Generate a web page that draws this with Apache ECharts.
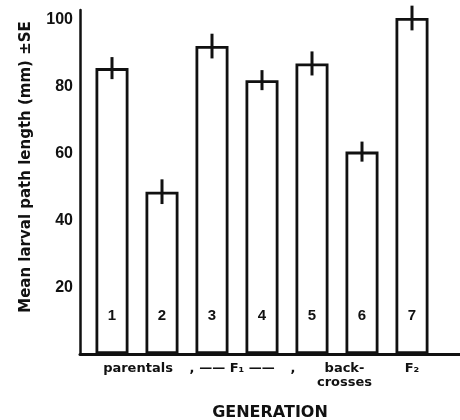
<!DOCTYPE html>
<html>
<head>
<meta charset="utf-8">
<script src="https://cdn.jsdelivr.net/npm/echarts@6/dist/echarts.min.js"></script>
<style>
  html, body { margin: 0; padding: 0; background: #fff; }
  #chart { width: 460px; height: 420px; }
</style>
</head>
<body>
<div id="chart"></div>
<script>
// bar numbers, positions on the x scale, means and standard errors
var barNames = ['1', '2', '3', '4', '5', '6', '7'];
var barPos = [1, 2, 3, 4, 5, 6, 7];
var means = [85.6, 48.6, 92.2, 82, 87, 60.6, 100.6];
var se = [3.3, 3.7, 3.7, 3.0, 3.6, 3.0, 3.7];

// generation labels under the axis
var groupNames = ['parentals', ',', '—— F\u2081 ——', ',', 'back-\ncrosses', 'F\u2082'];
var groupPos = [1.52, 2.6, 3.5, 4.62, 5.65, 7];

var FONT = 'Liberation Sans';
var WIDE = 'DejaVu Sans';
var chart = echarts.init(document.getElementById('chart'));

chart.setOption({
  animation: false,
  backgroundColor: '#fff',
  grid: { left: 80, right: 0, top: 10, bottom: 66, outerBoundsMode: 'none' },
  xAxis: {
    type: 'value',
    min: 0.36,
    max: 7.96,
    name: 'GENERATION',
    nameLocation: 'middle',
    nameGap: 51,
    nameTextStyle: { color: '#111', fontFamily: WIDE, fontSize: 16, fontWeight: 'bold' },
    axisLine: { lineStyle: { color: '#111', width: 3 } },
    axisTick: { show: false },
    axisLabel: { show: false },
    splitLine: { show: false }
  },
  yAxis: {
    type: 'value',
    min: 0,
    max: 103,
    interval: 20,
    name: 'Mean larval path length (mm) ±SE',
    nameLocation: 'middle',
    nameRotate: 90,
    nameGap: 46,
    nameTextStyle: { color: '#111', fontFamily: WIDE, fontSize: 15, fontWeight: 'bold', padding: [0, 0, 0, 30] },
    axisLine: { show: true, lineStyle: { color: '#111', width: 2.5 } },
    axisTick: { show: false },
    splitLine: { show: false },
    axisLabel: {
      color: '#111',
      fontFamily: FONT,
      fontSize: 16,
      fontWeight: 'bold',
      margin: 7,
      formatter: function (v) { return (v > 0 && v % 20 === 0) ? v : ''; }
    }
  },
  series: [
    {
      type: 'bar',
      barWidth: 33,
      data: barPos.map(function (x, i) { return [x, means[i]]; }),
      itemStyle: { color: '#fff', borderColor: '#111', borderWidth: 2.8 },
      label: {
        show: true,
        position: 'insideBottom',
        distance: 31,
        color: '#111',
        fontFamily: FONT,
        fontSize: 15,
        fontWeight: 'bold',
        formatter: function (p) { return barNames[p.dataIndex]; }
      }
    },
    {
      type: 'custom',
      data: barPos.map(function (x, i) { return [x, means[i] - se[i], means[i] + se[i]]; }),
      renderItem: function (params, api) {
        var lo = api.coord([api.value(0), api.value(1)]);
        var hi = api.coord([api.value(0), api.value(2)]);
        return {
          type: 'line',
          shape: { x1: lo[0], y1: lo[1], x2: hi[0], y2: hi[1] },
          style: { stroke: '#111', lineWidth: 3 }
        };
      },
      z: 5
    },
    {
      type: 'custom',
      clip: false,
      data: groupPos.map(function (x) { return [x, 0]; }),
      renderItem: function (params, api) {
        var p = api.coord([api.value(0), 0]);
        return {
          type: 'text',
          x: p[0],
          y: p[1] + 8,
          style: {
            text: groupNames[params.dataIndex],
            textAlign: 'center',
            textVerticalAlign: 'top',
            fill: '#111',
            font: 'bold 13px ' + WIDE,
            lineHeight: 14
          }
        };
      }
    }
  ]
});
</script>
</body>
</html>
